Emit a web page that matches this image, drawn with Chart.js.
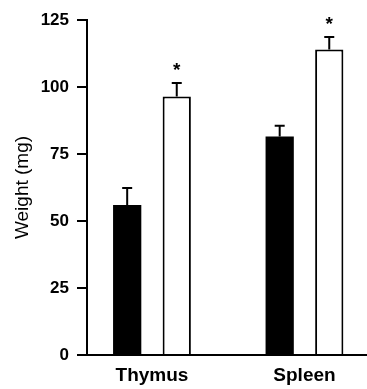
<!DOCTYPE html>
<html>
<head>
<meta charset="utf-8">
<script src="https://cdn.jsdelivr.net/npm/chart.js@4"></script>
<style>
  html, body { margin: 0; padding: 0; background: #fff; }
  #wrap { width: 367px; height: 389px; }
</style>
</head>
<body>
<div id="wrap"><canvas id="weightchart" width="367" height="389"></canvas></div>
<script>
// values
const categories = ['Thymus', 'Spleen'];
const controlWeight = [56, 81.5];
const controlErr = [6.3, 4];
const treatedWeight = [96.5, 114];
const treatedErr = [5, 4.7];
const treatedSig = ['*', '*'];
const yTicks = [0, 25, 50, 75, 100, 125];

const FONT = "'Liberation Sans', Arial, Helvetica, sans-serif";

function points(vals) {
    return vals.map(function (v, i) { return { x: i + 1, y: v }; });
}

// upward error bars plus significance stars
const errorBars = {
    id: 'errorBars',
    afterDatasetsDraw(chart) {
        const ctx = chart.ctx;
        const yScale = chart.scales.y;
        ctx.save();
        ctx.strokeStyle = '#000';
        ctx.fillStyle = '#000';
        ctx.lineWidth = 2;
        chart.data.datasets.forEach(function (ds, di) {
            const meta = chart.getDatasetMeta(di);
            meta.data.forEach(function (bar, i) {
                const top = yScale.getPixelForValue(ds.data[i].y + ds.errors[i]);
                ctx.beginPath();
                ctx.moveTo(bar.x, bar.y);
                ctx.lineTo(bar.x, top);
                ctx.moveTo(bar.x - 5, top);
                ctx.lineTo(bar.x + 5, top);
                ctx.stroke();
                if (ds.sig && ds.sig[i]) {
                    ctx.font = 'bold 19px ' + FONT;
                    ctx.textAlign = 'center';
                    ctx.textBaseline = 'middle';
                    ctx.fillText(ds.sig[i], bar.x, top - 12);
                }
            });
        });
        ctx.restore();
    }
};

document.addEventListener("DOMContentLoaded", function () {
    const ctx = document.getElementById('weightchart').getContext('2d');

    new Chart(ctx, {
        type: 'bar',
        data: {
            datasets: [{
                data: points(controlWeight),
                errors: controlErr,
                backgroundColor: '#000',
                borderColor: '#000',
                borderWidth: 0,
            }, {
                data: points(treatedWeight),
                errors: treatedErr,
                sig: treatedSig,
                backgroundColor: '#fff',
                borderColor: '#000',
                borderWidth: 2,
            }]
        },
        options: {
            responsive: false,
            animation: false,
            devicePixelRatio: 1,
            categoryPercentage: 0.65,
            barPercentage: 0.57,
            layout: { padding: { left: 0, right: 0, top: 20, bottom: 0 } },
            plugins: {
                legend: { display: false },
                tooltip: { enabled: false },
            },
            scales: {
                x: {
                    type: 'linear',
                    offset: false,
                    min: 0.574,
                    max: 2.41,
                    afterBuildTicks: function (scale) {
                        scale.ticks = categories.map(function (c, i) { return { value: i + 1 }; });
                    },
                    afterFit: function (scale) { scale.height = 34; },
                    grid: { display: false },
                    border: { display: true, color: '#000', width: 2 },
                    ticks: {
                        color: '#000',
                        padding: 1,
                        maxRotation: 0,
                        font: { family: FONT, size: 19, weight: 'bold' },
                        callback: function (v) { return categories[v - 1] || ''; },
                    },
                },
                y: {
                    min: 0,
                    max: 125,
                    afterBuildTicks: function (scale) {
                        scale.ticks = yTicks.map(function (v) { return { value: v }; });
                    },
                    afterFit: function (scale) { scale.width = 87; },
                    grid: {
                        drawOnChartArea: false,
                        tickLength: 10,
                        tickColor: '#000',
                        lineWidth: 2,
                    },
                    border: { display: true, color: '#000', width: 2 },
                    ticks: {
                        color: '#000',
                        padding: 8,
                        font: { family: FONT, size: 17, weight: 'bold' },
                    },
                    title: {
                        display: true,
                        text: 'Weight (mg)',
                        color: '#000',
                        padding: { top: 11, bottom: 0 },
                        font: { family: FONT, size: 19 },
                    },
                },
            },
        },
        plugins: [errorBars],
    });
});
</script>
</body>
</html>
